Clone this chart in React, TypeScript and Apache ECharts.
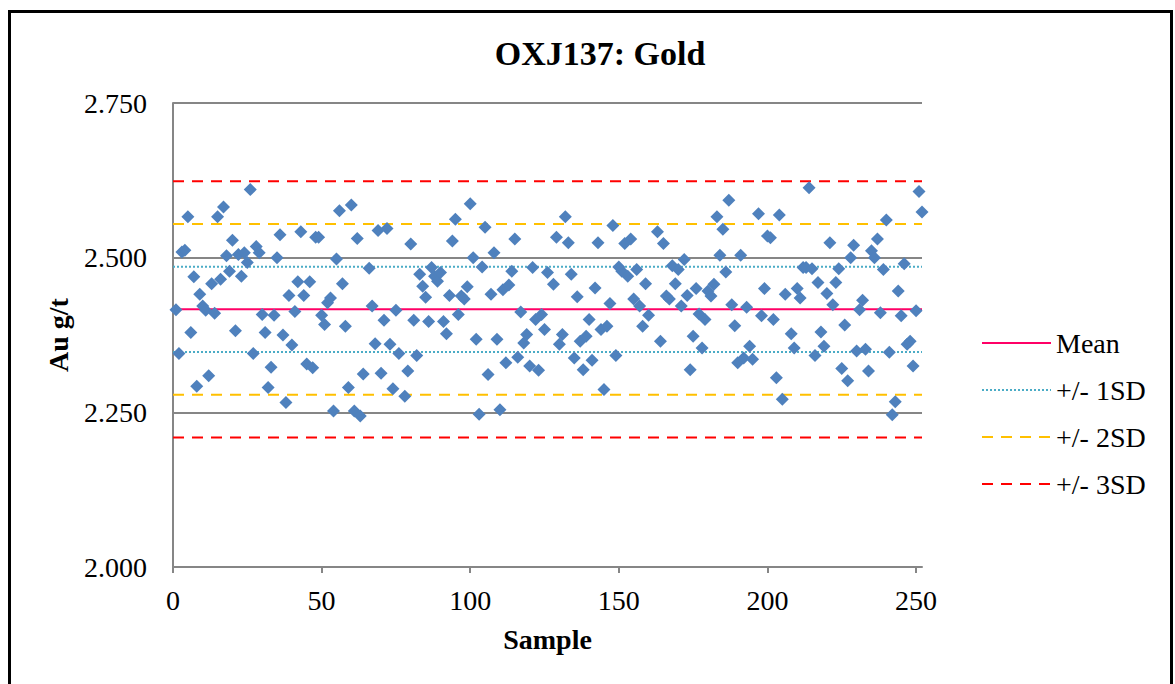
import React, { useEffect, useRef } from "react";
import * as echarts from "echarts";

// Sample numbers and Au g/t values
const samples = [
  1, 2, 3, 4, 5, 6, 7, 8, 9, 10, 11, 12, 13, 14, 15, 16, 17, 18, 19, 20,
  21, 22, 23, 24, 25, 26, 27, 28, 29, 30, 31, 32, 33, 34, 35, 36, 37, 38, 39, 40,
  41, 42, 43, 44, 45, 46, 47, 48, 49, 50, 51, 52, 53, 54, 55, 56, 57, 58, 59, 60,
  61, 62, 63, 64, 66, 67, 68, 69, 70, 71, 72, 73, 74, 75, 76, 78, 79, 80,
  81, 82, 83, 84, 85, 86, 87, 88, 89, 90, 91, 92, 93, 94, 95, 96, 97, 98, 99, 100,
  101, 102, 103, 104, 105, 106, 107, 108, 109, 110, 111, 112, 113, 114, 115, 116, 117, 118, 119, 120,
  121, 122, 123, 124, 125, 126, 128, 129, 130, 131, 132, 133, 134, 135, 136, 137, 138, 139, 140,
  141, 142, 143, 144, 145, 146, 147, 148, 149, 150, 151, 152, 153, 154, 155, 156, 157, 158, 159, 160,
  163, 164, 165, 166, 167, 168, 169, 170, 171, 172, 173, 174, 175, 176, 177, 178, 179, 180,
  181, 182, 183, 184, 185, 186, 187, 188, 189, 190, 191, 192, 193, 194, 195, 197, 198, 199, 200,
  201, 202, 203, 204, 205, 206, 208, 209, 210, 211, 212, 213, 214, 215, 216, 217, 218, 219, 220,
  221, 222, 223, 224, 225, 226, 227, 228, 229, 230, 231, 232, 233, 234, 235, 236, 237, 238, 239, 240,
  241, 242, 243, 244, 245, 246, 247, 248, 249, 250, 251, 252,
];

const auValues = [
  2.416, 2.345, 2.509, 2.512, 2.566, 2.379, 2.469, 2.292, 2.441, 2.422, 2.415, 2.309, 2.458, 2.41, 2.566, 2.465, 2.582, 2.503, 2.478, 2.528,
  2.382, 2.505, 2.47, 2.508, 2.492, 2.61, 2.345, 2.518, 2.508, 2.408, 2.379, 2.29, 2.323, 2.407, 2.5, 2.537, 2.375, 2.266, 2.439, 2.359,
  2.413, 2.461, 2.542, 2.439, 2.328, 2.461, 2.322, 2.533, 2.533, 2.407, 2.392, 2.427, 2.435, 2.252, 2.498, 2.576, 2.458, 2.389, 2.29, 2.585,
  2.252, 2.531, 2.244, 2.312, 2.483, 2.422, 2.361, 2.544, 2.313, 2.399, 2.547, 2.36, 2.288, 2.415, 2.345, 2.276, 2.317, 2.522,
  2.399, 2.342, 2.473, 2.454, 2.436, 2.397, 2.484, 2.47, 2.462, 2.476, 2.397, 2.377, 2.439, 2.527, 2.562, 2.408, 2.438, 2.433, 2.453, 2.587,
  2.5, 2.368, 2.247, 2.485, 2.549, 2.311, 2.441, 2.508, 2.368, 2.254, 2.448, 2.33, 2.456, 2.478, 2.53, 2.339, 2.412, 2.362, 2.376, 2.325,
  2.484, 2.4, 2.318, 2.408, 2.384, 2.476, 2.457, 2.533, 2.36, 2.376, 2.566, 2.524, 2.473, 2.338, 2.437, 2.365, 2.319, 2.373, 2.4,
  2.334, 2.451, 2.524, 2.384, 2.287, 2.389, 2.426, 2.552, 2.342, 2.485, 2.478, 2.523, 2.47, 2.53, 2.433, 2.481, 2.422, 2.389, 2.458, 2.407,
  2.542, 2.365, 2.523, 2.438, 2.433, 2.487, 2.458, 2.481, 2.422, 2.497, 2.439, 2.319, 2.373, 2.45, 2.409, 2.354, 2.4, 2.446,
  2.438, 2.457, 2.566, 2.504, 2.546, 2.477, 2.593, 2.424, 2.39, 2.33, 2.504, 2.338, 2.42, 2.357, 2.336, 2.571, 2.406, 2.45, 2.535,
  2.532, 2.4, 2.306, 2.569, 2.271, 2.441, 2.377, 2.354, 2.45, 2.435, 2.484, 2.484, 2.613, 2.482, 2.342, 2.46, 2.38, 2.357, 2.442,
  2.524, 2.424, 2.46, 2.482, 2.321, 2.391, 2.301, 2.5, 2.52, 2.349, 2.416, 2.431, 2.352, 2.317, 2.511, 2.5, 2.53, 2.411, 2.481, 2.561,
  2.347, 2.246, 2.267, 2.446, 2.406, 2.49, 2.36, 2.365, 2.325, 2.414, 2.607, 2.574,
];

const meanValue = 2.4165;
const sdValue = 0.069;
const xTickValues = [0, 50, 100, 150, 200, 250];
const xRange = [0, 252];
const yRange = [2.0, 2.75];
const yStep = 0.25;
const legendNames = ["Mean", "+/- 1SD", "+/- 2SD", "+/- 3SD"];

const FONT = "'Liberation Serif', 'Times New Roman', serif";

export default function App() {
  const ref = useRef<HTMLDivElement>(null);

  useEffect(() => {
    if (!ref.current) return;
    const chart = echarts.init(ref.current, null, { renderer: "svg" });

    const hline = (name: string, v: number, color: string, type: any, z = 3) => ({
      name,
      type: "line",
      data: [
        [xRange[0], v],
        [xRange[1], v],
      ],
      symbol: "none",
      lineStyle: { color, width: 2, type },
      itemStyle: { color },
      silent: true,
      z,
    });

    const sdStyles: [string, string, any][] = [
      [legendNames[1], "#4BACC6", [2, 2]],
      [legendNames[2], "#FFC000", [11, 8]],
      [legendNames[3], "#FF0000", [11, 8]],
    ];

    const series: any[] = [
      {
        name: "Au",
        type: "scatter",
        data: samples.map((s, i) => [s, auValues[i]]),
        symbol: "diamond",
        symbolSize: 13,
        itemStyle: { color: "#4F81BD", opacity: 1 },
        z: 5,
      },
      hline(legendNames[0], meanValue, "#FF0066", "solid"),
    ];
    sdStyles.forEach(([name, color, type], k) => {
      series.push(hline(name, meanValue + (k + 1) * sdValue, color, type));
      series.push(hline(name, meanValue - (k + 1) * sdValue, color, type));
    });

    chart.setOption({
      animation: false,
      backgroundColor: "#fff",
      title: {
        text: "OXJ137: Gold",
        left: 595,
        textAlign: "center",
        top: 31,
        textStyle: { fontFamily: FONT, fontWeight: "bold", fontSize: 34, color: "#000" },
      },
      legend: {
        data: legendNames,
        orient: "vertical",
        left: 981,
        top: 329,
        padding: 0,
        itemWidth: 69,
        itemHeight: 14,
        itemGap: 19,
        itemStyle: { opacity: 0, borderWidth: 0 },
        textStyle: { fontFamily: FONT, fontSize: 28, color: "#000", lineHeight: 28 },
        selectedMode: false,
      },
      grid: { left: 173, right: 253, top: 103, bottom: 117, containLabel: false },
      xAxis: {
        type: "value",
        min: xRange[0],
        max: xRange[1],
        interval: 50,
        name: "Sample",
        nameLocation: "middle",
        nameGap: 58,
        nameTextStyle: { fontFamily: FONT, fontWeight: "bold", fontSize: 28, color: "#000" },
        axisLine: { show: true, onZero: false, lineStyle: { color: "#868686", width: 2 } },
        axisTick: { show: true, length: 6, customValues: xTickValues, lineStyle: { color: "#868686", width: 2 } },
        axisLabel: {
          customValues: xTickValues,
          margin: 19,
          fontFamily: FONT,
          fontSize: 28,
          color: "#000",
        },
        splitLine: { show: false },
      },
      yAxis: {
        type: "value",
        min: yRange[0],
        max: yRange[1],
        interval: yStep,
        name: "Au g/t",
        nameLocation: "middle",
        nameGap: 101,
        nameTextStyle: { fontFamily: FONT, fontWeight: "bold", fontSize: 28, color: "#000" },
        axisLine: { show: true, lineStyle: { color: "#868686", width: 2 } },
        axisTick: { show: false },
        axisLabel: {
          margin: 26,
          fontFamily: FONT,
          fontSize: 28,
          color: "#000",
          formatter: (v: number) => v.toFixed(3),
        },
        splitLine: { show: true, lineStyle: { color: "#868686", width: 2 } },
      },
      graphic: [
        {
          type: "rect",
          shape: { x: 9.5, y: 11.5, width: 1162, height: 700 },
          style: { fill: "none", stroke: "#000", lineWidth: 3 },
          silent: true,
          z: 100,
        },
      ],
      series,
    });

    return () => chart.dispose();
  }, []);

  return (
    <div
      ref={ref}
      style={{ position: "fixed", left: 0, top: 0, width: 1175, height: 684 }}
    />
  );
}
